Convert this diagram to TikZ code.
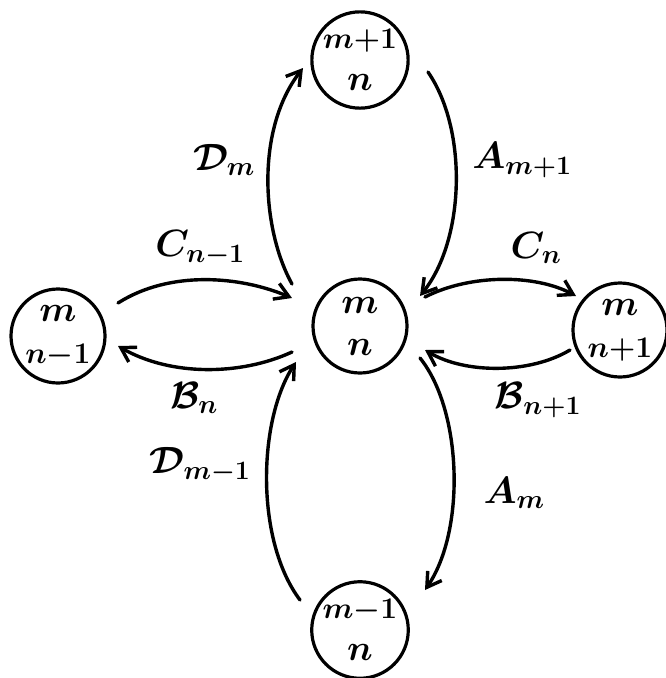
\RequirePackage{fix-cm}
\documentclass[tikz,border=0pt]{standalone}
\usetikzlibrary{arrows.meta}
\newcommand{\smallpart}[1]{{\fontsize{30}{30}\selectfont\boldmath$#1$}}
\begin{document}
\begin{tikzpicture}[x=1pt,y=-1pt,
  state/.style={circle,draw,line width=3.2pt,minimum size=94pt,inner sep=0pt,
    align=center,font=\fontsize{36}{40}\selectfont\boldmath},
  flow/.style={line width=3.4pt,line cap=round,
    -{Straight Barb[length=14pt,width=17pt,line width=3.4pt]}},
  rate/.style={font=\fontsize{38}{44}\selectfont\boldmath}]
\useasboundingbox (0,0) rectangle (666,678);
% lattice sites
\node[state] (c) at (360,326) {$m$\\[2pt]$n$};
\node[state] (t) at (360,60) {\smallpart{m{+}1}\\[2pt]$n$};
\node[state] (b) at (360,630) {\smallpart{m{-}1}\\[2pt]$n$};
\node[state] (l) at (58,336) {$m$\\[2pt]\smallpart{n{-}1}};
\node[state] (r) at (620,330) {$m$\\[2pt]\smallpart{n{+}1}};
% connector end points around the sites
\coordinate (cUL) at (292,284);
\coordinate (cUR) at (420,296);
\coordinate (cLL) at (296,362);
\coordinate (cLR) at (420,358);
\coordinate (cWL) at (292,298);
\coordinate (cWR) at (292,352);
\coordinate (cEL) at (425,297);
\coordinate (cER) at (425,350);
\coordinate (tL) at (303,68);
\coordinate (tR) at (428,72);
\coordinate (bL) at (300,600);
\coordinate (bR) at (425,590);
\coordinate (lU) at (118,303);
\coordinate (lD) at (118,346);
\coordinate (rU) at (576,296);
\coordinate (rD) at (570,350);
% transitions
\draw[flow] (cUL) .. controls (262,230) and (255,130) .. (tL);
\draw[flow] (tR) .. controls (468,130) and (465,240) .. (cUR);
\draw[flow] (lU) .. controls (170,270) and (240,276) .. (cWL);
\draw[flow] (cWR) .. controls (240,376) and (170,376) .. (lD);
\draw[flow] (cEL) .. controls (470,274) and (535,274) .. (rU);
\draw[flow] (rD) .. controls (530,374) and (465,374) .. (cER);
\draw[flow] (bL) .. controls (255,540) and (258,420) .. (cLL);
\draw[flow] (cLR) .. controls (462,410) and (466,530) .. (bR);
% rate labels
\node[rate] (dm) at (224,160) {$\mathcal{D}_m$};
\node[rate] (am1) at (522,160) {$A_{m+1}$};
\node[rate] (cn1) at (200,248) {$C_{n-1}$};
\node[rate] (bn) at (194,398) {$\mathcal{B}_n$};
\node[rate] (cn) at (536,248) {$C_n$};
\node[rate] (bn1) at (538,400) {$\mathcal{B}_{n+1}$};
\node[rate] (am) at (514,493) {$A_m$};
\node[rate] (dm1) at (200,465) {$\mathcal{D}_{m-1}$};
\end{tikzpicture}
\end{document}
